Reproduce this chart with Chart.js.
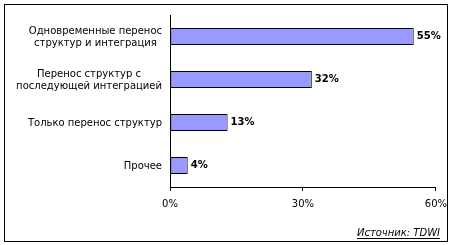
<!DOCTYPE html>
<html>
<head>
<meta charset="utf-8">
<script src="https://cdn.jsdelivr.net/npm/chart.js@4"></script>
<style>
  html, body { margin: 0; padding: 0; background: #fff; }
  #wrap { width: 454px; height: 245px; }
</style>
</head>
<body>
<div id="wrap"><canvas id="chart"></canvas></div>
<script>
const categories = [
  ["Одновременные перенос", "структур и интеграция"],
  ["Перенос структур с", "последующей интеграцией"],
  ["Только перенос структур"],
  ["Прочее"]
];
const values = [55, 32, 13, 4];
const xTicks = [0, 30, 60];
const sourceText = "Источник: TDWI";

const FONT = "DejaVu Sans";

// рамка вокруг всей картинки
const framePlugin = {
  id: "frame",
  beforeDraw(chart) {
    const ctx = chart.ctx;
    ctx.save();
    ctx.fillStyle = "#fff";
    ctx.fillRect(0, 0, chart.width, chart.height);
    ctx.strokeStyle = "#000";
    ctx.lineWidth = 1;
    ctx.strokeRect(4.5, 4.5, 443, 237);
    ctx.restore();
  }
};

// подписи категорий: строки по центру, блок прижат к оси
const catLabelsPlugin = {
  id: "catLabels",
  afterDraw(chart) {
    const ctx = chart.ctx;
    const y = chart.scales.y;
    const right = chart.chartArea.left - 8;
    const lineH = 12;
    ctx.save();
    ctx.font = "10px '" + FONT + "'";
    ctx.fillStyle = "#000";
    ctx.textAlign = "center";
    ctx.textBaseline = "middle";
    categories.forEach((lines, i) => {
      const widest = Math.max(...lines.map(l => ctx.measureText(l).width));
      const cx = right - widest / 2;
      const cy = y.getPixelForValue(i) + 1;
      const top = cy - (lines.length - 1) * lineH / 2;
      lines.forEach((l, k) => ctx.fillText(l, cx, top + k * lineH));
    });
    ctx.restore();
  }
};

// значения справа от столбцов
const valueLabelsPlugin = {
  id: "valueLabels",
  afterDatasetsDraw(chart) {
    const ctx = chart.ctx;
    const meta = chart.getDatasetMeta(0);
    ctx.save();
    ctx.font = "bold 10px '" + FONT + "'";
    ctx.fillStyle = "#000";
    ctx.textAlign = "left";
    ctx.textBaseline = "middle";
    meta.data.forEach((bar, i) => {
      ctx.fillText(values[i] + "%", bar.x + 3, bar.y);
    });
    ctx.restore();
  }
};

// подпись источника
const sourcePlugin = {
  id: "source",
  afterDraw(chart) {
    const ctx = chart.ctx;
    ctx.save();
    ctx.font = "italic 10px '" + FONT + "'";
    ctx.fillStyle = "#000";
    ctx.textAlign = "right";
    ctx.textBaseline = "alphabetic";
    const xr = 440, yb = 236;
    ctx.fillText(sourceText, xr, yb);
    const w = ctx.measureText(sourceText).width;
    ctx.fillRect(xr - w, yb + 2, w, 1);
    ctx.restore();
  }
};

new Chart(document.getElementById("chart"), {
  type: "bar",
  data: {
    labels: categories,
    datasets: [{
      data: values,
      backgroundColor: "#9999FF",
      borderColor: "#000",
      borderWidth: 1,
      borderSkipped: false,
      barPercentage: 0.4,
      categoryPercentage: 1
    }]
  },
  options: {
    indexAxis: "y",
    responsive: true,
    maintainAspectRatio: false,
    animation: false,
    layout: { padding: { left: 0, right: 17, top: 15, bottom: 0 } },
    plugins: {
      legend: { display: false },
      tooltip: { enabled: false }
    },
    scales: {
      x: {
        min: 0,
        max: 60,
        afterBuildTicks: scale => { scale.ticks = xTicks.map(v => ({ value: v })); },
        afterFit: scale => { scale.height = 58; },
        grid: { drawOnChartArea: false, drawTicks: true, tickLength: 4, color: "#000" },
        border: { display: true, color: "#000", width: 1 },
        ticks: {
          color: "#000",
          font: { family: FONT, size: 10 },
          padding: 7,
          maxRotation: 0,
          callback: v => v + "%"
        }
      },
      y: {
        afterFit: scale => { scale.width = 170; },
        grid: { display: false },
        border: { display: true, color: "#000", width: 1 },
        ticks: { display: false }
      }
    }
  },
  plugins: [framePlugin, catLabelsPlugin, valueLabelsPlugin, sourcePlugin]
});
</script>
</body>
</html>
